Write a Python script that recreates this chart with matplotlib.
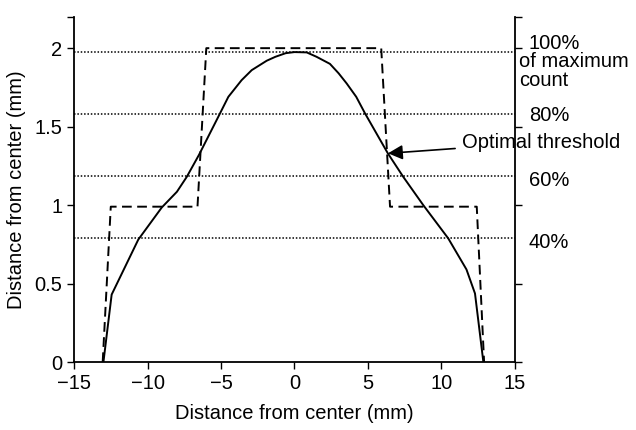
import matplotlib
matplotlib.use('Agg')
import matplotlib.pyplot as plt

plt.rcParams['font.family'] = ['Liberation Sans', 'DejaVu Sans']

# measured profile (solid) and true object (dashed step)
profile_x = [-13.0, -12.44, -10.63, -9.03, -8.0, -7.33, -6.5, -5.07, -4.5, -3.6,
             -2.91, -1.89, -1.3, -0.6, 0.0, 0.83, 1.5, 2.41, 3.0, 3.55,
             4.2, 4.8, 6.35, 7.4, 8.76, 10.46, 11.7, 12.28, 12.85]
profile_y = [0.0, 0.43, 0.78, 0.985, 1.085, 1.18, 1.32, 1.584, 1.69, 1.796,
             1.86, 1.92, 1.945, 1.968, 1.975, 1.973, 1.945, 1.90, 1.84, 1.775,
             1.69, 1.584, 1.33, 1.18, 1.0, 0.788, 0.59, 0.437, 0.0]

step_x = [-13.05, -12.5, -6.6, -6.0, 5.9, 6.5, 12.4, 12.9]
step_y = [0.0, 0.99, 0.99, 2.0, 2.0, 0.99, 0.99, 0.0]

levels = [1.975, 1.58, 1.185, 0.79]
level_labels = ['100%', '80%', '60%', '40%']
label_y = [2.03, 1.568, 1.154, 0.761]

fig = plt.figure(figsize=(6.36, 4.3), dpi=100)
ax = fig.add_axes([0.1164, 0.158, 0.6933, 0.803])

for lv in levels:
    ax.axhline(lv, color='black', lw=1.1, linestyle=(0, (1, 1.2)))

ax.plot(step_x, step_y, color='black', lw=1.4, linestyle=(0, (5, 2.8)))
ax.plot(profile_x, profile_y, color='black', lw=1.4)

ax.set_xlim(-15, 15)
ax.set_ylim(0, 2.2)
ax.set_xticks([-15, -10, -5, 0, 5, 10, 15])
ax.set_yticks([0, 0.5, 1, 1.5, 2])
ax.set_yticklabels(['0', '0.5', '1', '1.5', '2'])
ax.set_yticks([2.2], minor=True)
ax.spines['top'].set_visible(False)
ax.tick_params(axis='y', which='both', left=True, right=True, direction='out',
               length=5, width=1, labelsize=14.5)
ax.tick_params(axis='x', direction='out', length=5, width=1, labelsize=14.5)
for s in ['left', 'right', 'bottom']:
    ax.spines[s].set_linewidth(1.3)

ax.set_xlabel('Distance from center (mm)', fontsize=14.5, labelpad=8)
ax.set_ylabel('Distance from center (mm)', fontsize=14.5, labelpad=6)

for txt, yy in zip(level_labels, label_y):
    ax.text(15.95, yy, txt, fontsize=14.5, ha='left', va='center', clip_on=False)
ax.text(15.3, 1.917, 'of maximum', fontsize=14.5, ha='left', va='center', clip_on=False)
ax.text(15.3, 1.793, 'count', fontsize=14.5, ha='left', va='center', clip_on=False)

ax.annotate('Optimal threshold', xy=(6.36, 1.33), xytext=(11.4, 1.40),
            fontsize=14.5, ha='left', va='center', annotation_clip=False,
            arrowprops=dict(arrowstyle='-|>', color='black', lw=1.2,
                            mutation_scale=22, shrinkA=3, shrinkB=0))

fig.savefig('out.png', dpi=100)
